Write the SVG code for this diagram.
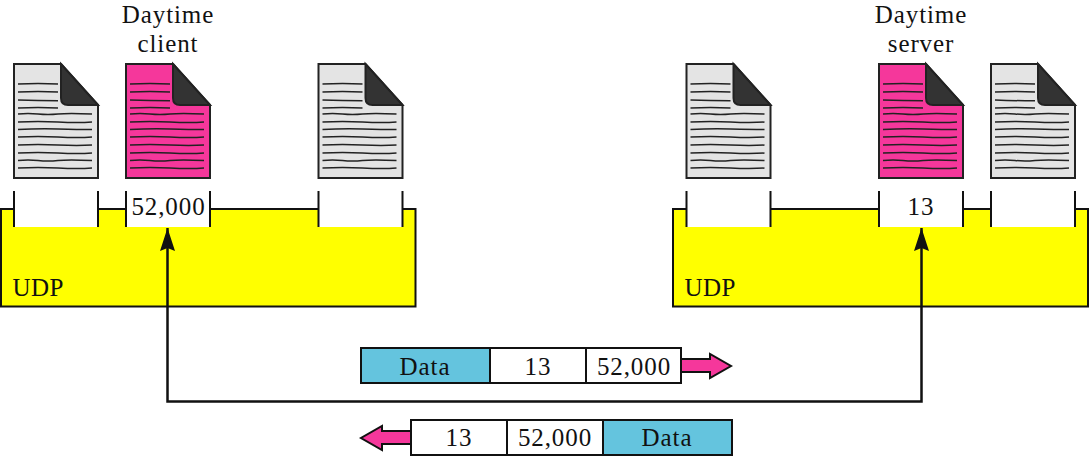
<svg xmlns="http://www.w3.org/2000/svg" xmlns:xlink="http://www.w3.org/1999/xlink" width="1090" height="457" viewBox="0 0 1090 457">
<style>
text{font-family:"Liberation Serif","DejaVu Serif",serif;font-size:25px;letter-spacing:.9px;fill:#111;text-anchor:middle}
.udp{letter-spacing:.4px;text-anchor:start}
.box{fill:#ffff00;stroke:#111;stroke-width:2}
.port{fill:#fff;stroke:none}
.tick{fill:none;stroke:#111;stroke-width:2}
.page{stroke:#222;stroke-width:2;stroke-linejoin:miter}
.gray{fill:#e4e4e4}
.pink{fill:#f5379b}
.fold{fill:#333;stroke:#222;stroke-width:2}
.ln{fill:none;stroke:#222;stroke-width:1.5}
.cell{fill:#fff;stroke:#111;stroke-width:2}
.data{fill:#64c4de;stroke:#111;stroke-width:2}
.arr{fill:#f5379b;stroke:#111;stroke-width:2}
.wire{fill:none;stroke:#111;stroke-width:2.500}
</style>
<defs>
<g id="lines">
<path class="ln" d="M18 84q20 -.8 40 0M18 92q20 -.8 40 0M18 100q20 .8 40 .8M18 108q20 -.8 40 0"/>
<path class="ln" d="M18 114q10 -1 20 0t20 0t34 0M18 122q20 -1 40 0t34 0M18 129.500q20 -1 40 -.5t34 .5M18 137q20 -1 40 0t34 0M18 145q20 -.8 40 0t34 0M18 153q20 -1 40 0t34 0M18 160.500q10 -1 20 0t20 0t34 0M18 168q20 -1 40 0t34 0"/>
</g>
<g id="doc-gray"><path class="page gray" d="M14 64H61L98 105V178H14Z"/><path class="fold" d="M61 64L98 105H68Q61 105 61 98Z"/><use xlink:href="#lines"/></g>
<g id="doc-pink"><path class="page pink" d="M14 64H61L98 105V178H14Z"/><path class="fold" d="M61 64L98 105H68Q61 105 61 98Z"/><use xlink:href="#lines"/></g>
<g id="port"><rect class="port" x="14" y="207" width="84" height="20"/><path class="tick" d="M14 191V227M98 191V227"/></g>
<marker id="head" markerUnits="userSpaceOnUse" markerWidth="24" markerHeight="16" refX="23" refY="7.500" orient="auto"><path d="M0 0L23 7.500L0 15L3 7.500Z" fill="#111"/></marker>
</defs>

<g id="udp-client">
<rect class="box" x="1" y="209" width="414.500" height="97.500"/>
<text class="udp" x="12.500" y="296">UDP</text>
</g>
<g id="udp-server">
<rect class="box" x="673" y="209" width="415" height="97.500"/>
<text class="udp" x="684.500" y="296">UDP</text>
</g>

<g id="client-proc-1"><use xlink:href="#doc-gray"/><use xlink:href="#port"/></g>
<g id="client-proc-2"><use xlink:href="#doc-pink" x="112"/><use xlink:href="#port" x="112"/><text x="168" y="23">Daytime</text><text x="168" y="52">client</text><text x="168.500" y="215">52,000</text></g>
<g id="client-proc-3"><use xlink:href="#doc-gray" x="304.500"/><use xlink:href="#port" x="304.500"/></g>
<g id="server-proc-1"><use xlink:href="#doc-gray" x="672.500"/><use xlink:href="#port" x="672.500"/></g>
<g id="server-proc-2"><use xlink:href="#doc-pink" x="865"/><use xlink:href="#port" x="865"/><text x="921" y="23">Daytime</text><text x="921" y="52">server</text><text x="921" y="215">13</text></g>
<g id="server-proc-3"><use xlink:href="#doc-gray" x="977"/><use xlink:href="#port" x="977"/></g>

<g id="connectors">
<path class="wire" marker-end="url(#head)" d="M544 401.500H167.500V228"/>
<path class="wire" marker-end="url(#head)" d="M544 401.500H921.500V228"/>
</g>

<g id="packet-request">
<rect class="data" x="361" y="348" width="129" height="35"/>
<rect class="cell" x="490" y="348" width="96" height="35"/>
<rect class="cell" x="586" y="348" width="95" height="35"/>
<text x="425" y="375">Data</text><text x="538" y="375">13</text><text x="634" y="375">52,000</text>
<path class="arr" d="M681 359H710V354L731 366L710 378V372H681Z"/>
</g>
<g id="packet-reply">
<rect class="cell" x="411" y="420" width="96" height="35"/>
<rect class="cell" x="507" y="420" width="96" height="35"/>
<rect class="data" x="603" y="420" width="129" height="35"/>
<text x="459" y="446">13</text><text x="555" y="446">52,000</text><text x="667" y="446">Data</text>
<path class="arr" d="M411 431H382V426L361 438L382 450V444H411Z"/>
</g>
</svg>
